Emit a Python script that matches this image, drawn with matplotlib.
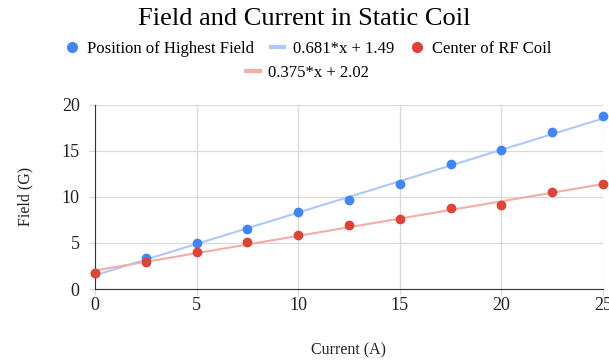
import numpy as np
import matplotlib.pyplot as plt
from matplotlib.lines import Line2D

current = [0, 2.5, 5, 7.5, 10, 12.5, 15, 17.5, 20, 22.5, 25]
highest_field = [1.7, 3.36, 5.03, 6.55, 8.32, 9.66, 11.36, 13.53, 15.05, 17.03, 18.84]
rf_center = [1.74, 2.89, 3.98, 5.10, 5.90, 6.91, 7.56, 8.82, 9.15, 10.52, 11.43]
fit_highest = [0.681, 1.49]
fit_rf = [0.375, 2.02]

blue = '#4285F4'
red = '#DB4437'
light_blue = '#ADC8F8'
light_red = '#F1ADA7'
grid = '#d9d9d9'
dark = '#333333'

plt.rcParams['font.family'] = ['Liberation Serif', 'DejaVu Serif']

fig = plt.figure(figsize=(6.09, 3.64), dpi=100)
ax = fig.add_axes([0.156, 0.206, 0.834, 0.506])

xs = np.array([0, 25])
ax.plot(xs, np.polyval(fit_highest, xs), color=light_blue, lw=1.5, zorder=2)
ax.plot(xs, np.polyval(fit_rf, xs), color=light_red, lw=1.5, zorder=2)
ax.plot(current, highest_field, 'o', color=blue, markersize=6, zorder=3, clip_on=False)
ax.plot(current, rf_center, 'o', color=red, markersize=6, zorder=4, clip_on=False)

ax.set_xlim(0, 25)
ax.set_ylim(0, 20)
ax.set_xticks([0, 5, 10, 15, 20, 25])
ax.set_yticks([0, 5, 10, 15, 20])
ax.grid(True, color=grid, lw=0.9)
ax.set_axisbelow(True)
for s in ['top', 'right']:
    ax.spines[s].set_visible(False)
ax.spines['left'].set_color(dark)
ax.spines['bottom'].set_color(dark)
ax.tick_params(axis='both', length=4.5, width=0.9, color=grid, labelsize=13, labelcolor='#222222')
ax.tick_params(axis='y', pad=6.5)
ax.tick_params(axis='x', pad=1.5)
ax.xaxis.get_major_ticks()[0].tick1line.set_color(dark)
ax.yaxis.get_major_ticks()[0].tick1line.set_color(dark)
ax.set_xlabel('Current (A)', fontsize=11.5, color='#222222', labelpad=20)
ax.set_ylabel('Field (G)', fontsize=11.5, color='#222222', labelpad=20)

fig.suptitle('Field and Current in Static Coil', fontsize=19, y=0.978, color='#000000')

h1 = [Line2D([], [], marker='o', ls='', color=blue, markersize=7),
      Line2D([], [], color=light_blue, lw=3),
      Line2D([], [], marker='o', ls='', color=red, markersize=7)]
l1 = ['Position of Highest Field', '%.3g*x + %.3g' % tuple(fit_highest), 'Center of RF Coil']
fig.legend(h1, l1, loc='center', bbox_to_anchor=(0.507, 0.865), ncol=3, frameon=False,
           fontsize=12, handlelength=0.8, handletextpad=0.5, columnspacing=1.0)
h2 = [Line2D([], [], color=light_red, lw=3)]
l2 = ['%.3g*x + %.3g' % tuple(fit_rf)]
fig.legend(h2, l2, loc='center', bbox_to_anchor=(0.505, 0.8), frameon=False,
           fontsize=12, handlelength=0.8, handletextpad=0.5)

fig.savefig('out.png', dpi=100)
